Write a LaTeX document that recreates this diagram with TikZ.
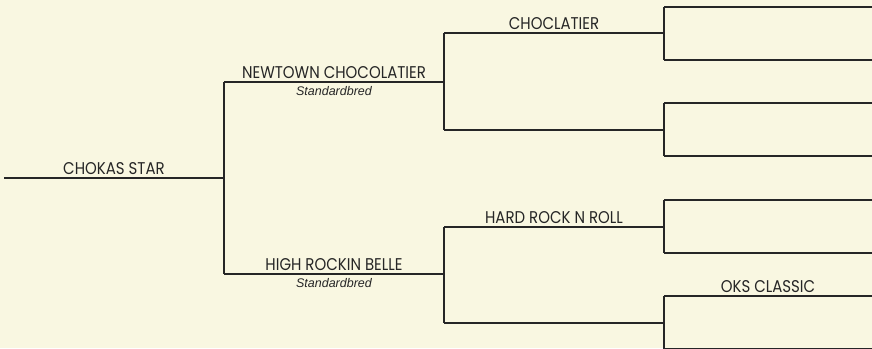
\documentclass[tikz,border=0pt]{standalone}
\usepackage{fontspec}
\setmainfont{Poppins}
\newfontfamily\horsefont[FakeStretch=0.88]{Poppins}
\newfontfamily\breedfont{Liberation Sans}
\definecolor{paper}{RGB}{249,247,225}
\definecolor{ink}{RGB}{38,38,38}
\begin{document}
\begin{tikzpicture}[x=1pt,y=-1pt,line cap=butt,line join=miter]
\tikzset{pedline/.style={draw=ink,line width=1.2pt},
horse/.style={midway,anchor=south,inner sep=3pt,text=ink,font=\horsefont\fontsize{17}{19}\selectfont},
breed/.style={midway,anchor=north,inner sep=3.5pt,text=ink,font=\breedfont\itshape\fontsize{12.5}{14}\selectfont}
}
\fill[paper] (0,0) rectangle (872,348);
\useasboundingbox (0,0) rectangle (872,348);
\clip (0,0) rectangle (872,348);
% generation 0 and 1
\coordinate (o) at (4,178); \coordinate (oe) at (224,178);
\coordinate (s) at (224,82); \coordinate (se) at (444,82);
\coordinate (d) at (224,274); \coordinate (de) at (444,274);
% generation 2
\coordinate (ss) at (444,33); \coordinate (sse) at (664,33);
\coordinate (sd) at (444,130); \coordinate (sde) at (664,130);
\coordinate (ds) at (444,227); \coordinate (dse) at (664,227);
\coordinate (dd) at (444,323); \coordinate (dde) at (664,323);
% generation 3
\foreach \n/\y in {sss/7,ssd/60,sds/103,sdd/156,dss/200,dsd/253,dds/296,ddd/349}{
\coordinate (\n) at (664,\y); \coordinate (e\n) at (872,\y);
\draw[pedline] (\n) -- (e\n);
}
\draw[pedline] (o) -- (oe) node[horse] (chokas) {CHOKAS STAR};
\draw[pedline] (s) -- (d);
\draw[pedline] (s) -- (se) node[horse] (newtown) {NEWTOWN CHOCOLATIER}
node[breed] (newtownbreed) {Standardbred};
\draw[pedline] (d) -- (de) node[horse] (belle) {HIGH ROCKIN BELLE}
node[breed] (bellebreed) {Standardbred};
\draw[pedline] (ss) -- (sd) (ds) -- (dd);
\draw[pedline] (ss) -- (sse) node[horse] (choclatier) {CHOCLATIER};
\draw[pedline] (sd) -- (sde);
\draw[pedline] (ds) -- (dse) node[horse] (hardrock) {HARD ROCK N ROLL};
\draw[pedline] (dd) -- (dde);
\draw[pedline] (sss) -- (ssd) (sds) -- (sdd) (dss) -- (dsd) (dds) -- (ddd);
\path (dds) -- (edds) node[horse] (oks) {OKS CLASSIC};
\end{tikzpicture}
\end{document}
